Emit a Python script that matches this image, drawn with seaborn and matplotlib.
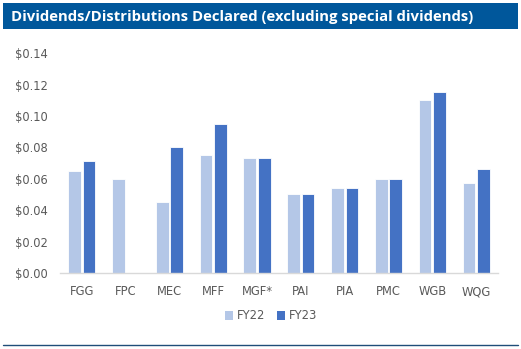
import matplotlib
matplotlib.use("Agg")
import matplotlib.pyplot as plt
import seaborn as sns
import pandas as pd
from matplotlib.patches import Rectangle
from matplotlib.lines import Line2D

categories = ["FGG", "FPC", "MEC", "MFF", "MGF*", "PAI", "PIA", "PMC", "WGB", "WQG"]
fy22 = [0.065, 0.060, 0.045, 0.075, 0.073, 0.050, 0.054, 0.060, 0.110, 0.057]
fy23 = [0.071, None, 0.080, 0.095, 0.073, 0.050, 0.054, 0.060, 0.115, 0.066]
series = ["FY22", "FY23"]
yticks = [0.00, 0.02, 0.04, 0.06, 0.08, 0.10, 0.12, 0.14]

rows = []
for c, a, b in zip(categories, fy22, fy23):
    rows.append({"cat": c, "year": "FY22", "val": a})
    rows.append({"cat": c, "year": "FY23", "val": b})
df = pd.DataFrame(rows)

sns.set_theme(style="white")
plt.rcParams['font.family'] = ['DejaVu Sans']

colors = {"FY22": "#B4C7E7", "FY23": "#4472C4"}

fig = plt.figure(figsize=(5.21, 3.49), dpi=100)
ax = fig.add_axes([0.115, 0.2178, 0.841, 0.63])

sns.barplot(data=df, x="cat", y="val", hue="year", order=categories,
            hue_order=series, palette=colors, width=0.66, gap=0.12,
            saturation=1, edgecolor="white", linewidth=0.6, ax=ax, legend=False)

ax.set_ylim(0, 0.14)
ax.set_xlim(-0.5, len(categories) - 0.5)
ax.set_yticks(yticks)
ax.set_yticklabels([f"${v:.2f}" for v in yticks])
ax.set_xlabel("")
ax.set_ylabel("")
for s in ["top", "right", "left"]:
    ax.spines[s].set_visible(False)
ax.spines["bottom"].set_color("#D9D9D9")
ax.spines["bottom"].set_linewidth(1)
ax.tick_params(axis="both", length=0, colors="#595959", labelsize=8.3)
ax.tick_params(axis="y", pad=9)
ax.tick_params(axis="x", pad=9)

# Legend
handles = [Rectangle((0, 0), 1, 1, facecolor=colors[s], edgecolor="none") for s in series]
fig.legend(handles, series, loc="center", bbox_to_anchor=(0.52, 0.095), ncol=2,
           frameon=False, fontsize=8.3, handlelength=0.75, handleheight=0.75,
           handletextpad=0.3, columnspacing=1.0, labelcolor="#595959")

# Title bar
fig.patches.append(Rectangle((3 / 521, 1 - 29 / 349), 515 / 521, 26 / 349,
                             transform=fig.transFigure, facecolor="#00579B",
                             edgecolor="none", zorder=0))
fig.text(11 / 521, 1 - 16.5 / 349, "Dividends/Distributions Declared (excluding special dividends)",
         color="white", fontsize=10.7, fontweight="bold", va="center", ha="left",
         family=["Open Sans", "DejaVu Sans"])

# Bottom line
fig.add_artist(Line2D([3 / 521, 518 / 521], [1 - 345 / 349, 1 - 345 / 349],
                      transform=fig.transFigure, color="#1F4E79", linewidth=1))

fig.savefig("out.png", dpi=100)
